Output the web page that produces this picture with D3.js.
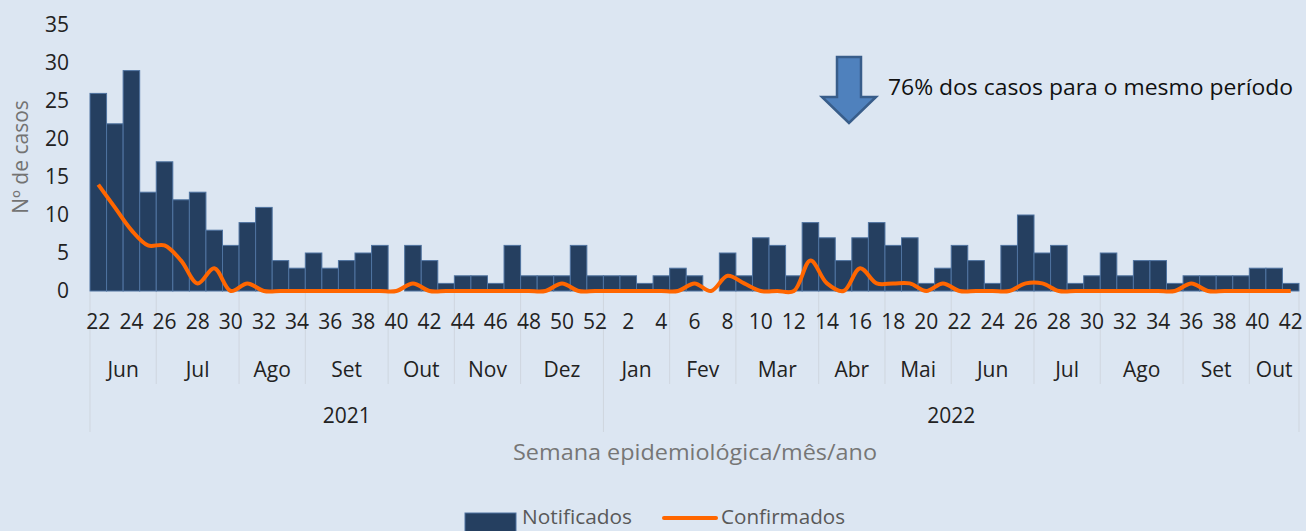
<!DOCTYPE html>
<html><head><meta charset="utf-8">
<script src="https://cdn.jsdelivr.net/npm/d3@7"></script>
<style>
html,body{margin:0;padding:0;background:#dce6f2;}
svg{display:block;}
text{font-family:"Open Sans","Noto Sans",sans-serif;}
</style></head>
<body>
<svg id="c" width="1306" height="531"></svg>
<script>
// ---- data ----
const weekLabels = [22,23,24,25,26,27,28,29,30,31,32,33,34,35,36,37,38,39,40,41,42,43,44,45,46,47,48,49,50,51,52,
  1,2,3,4,5,6,7,8,9,10,11,12,13,14,15,16,17,18,19,20,21,22,23,24,25,26,27,28,29,30,31,32,33,34,35,36,37,38,39,40,41,42];
const notificados = [26,22,29,13,17,12,13,8,6,9,11,4,3,5,3,4,5,6,0,6,4,1,2,2,1,6,2,2,2,6,2,
  2,2,1,2,3,2,0,5,2,7,6,2,9,7,4,7,9,6,7,1,3,6,4,1,6,10,5,6,1,2,5,2,4,4,1,2,2,2,2,3,3,1];
const confirmados = [14,11,8,6,6,4,1,3,0,1,0,0,0,0,0,0,0,0,0,1,0,0,0,0,0,0,0,0,1,0,0,
  0,0,0,0,0,1,0,2,1,0,0,0,4,1,0,3,1,1,1,0,1,0,0,0,0,1,1,0,0,0,0,0,0,0,0,1,0,0,0,0,0,0];
const monthLabels = ["Jun","Jul","Ago","Set","Out","Nov","Dez","Jan","Fev","Mar","Abr","Mai","Jun","Jul","Ago","Set","Out"];
const monthWeeks  = [4,5,4,5,4,4,5,4,4,5,4,4,5,4,5,4,3];
const yearLabels = ["2021","2022"];
const yearWeeks  = [31,42];
const yTicks = [0,5,10,15,20,25,30,35];

// ---- layout ----
const svg = d3.select("#c");
const idx = d3.range(weekLabels.length);
const x = d3.scaleBand().domain(idx).range([90,1299]).padding(0);
const y = d3.scaleLinear().domain([0,35]).range([291,25]);
const bw = x.bandwidth();

// y axis labels
const yAxis = d3.axisLeft(y).tickValues(yTicks).tickSize(0).tickPadding(0);
const gy = svg.append("g").attr("transform","translate(69,0)").call(yAxis);
gy.select(".domain").remove();
gy.selectAll("text").attr("font-size",21).attr("fill","#222").attr("font-family","Open Sans");

// y title
svg.append("text").attr("transform","translate(28,157) rotate(-90)")
  .attr("text-anchor","middle").attr("font-size",21).attr("fill","#737373").text("Nº de casos");

// separators in category axis
const sepCol = "#cfd6df";
let acc = 0;
const monthBounds = [0];
monthWeeks.forEach(n=>{acc+=n; monthBounds.push(acc);});
acc = 0;
const yearBounds = [0];
yearWeeks.forEach(n=>{acc+=n; yearBounds.push(acc);});
const bx = i => i>=idx.length ? x(idx.length-1)+bw : x(i);
monthBounds.forEach(b=>{
  const isYear = yearBounds.includes(b);
  svg.append("line").attr("x1",bx(b)).attr("x2",bx(b))
    .attr("y1",292).attr("y2",isYear?432:384)
    .attr("stroke",sepCol).attr("stroke-width",1);
});

// bars
svg.append("g").selectAll("rect").data(idx).join("rect")
  .attr("x",i=>x(i)).attr("width",bw)
  .attr("y",i=>y(notificados[i])).attr("height",i=>y(0)-y(notificados[i]))
  .attr("fill","#253f60").attr("stroke","#4f73a0").attr("stroke-width",1);

// line
const line = d3.line().x(i=>x(i)+bw/2).y(i=>y(confirmados[i])).curve(d3.curveCatmullRom.alpha(0.5));
svg.append("path").attr("d",line(idx)).attr("fill","none")
  .attr("stroke","#ff6600").attr("stroke-width",4).attr("stroke-linejoin","round");

// week labels
svg.append("g").selectAll("text").data(idx.filter(i=>i%2===0)).join("text")
  .attr("x",i=>x(i)+bw/2).attr("y",329).attr("text-anchor","middle")
  .attr("font-size",21).attr("fill","#222").text(i=>weekLabels[i]);

// month labels
svg.append("g").selectAll("text").data(monthLabels).join("text")
  .attr("x",(d,k)=>(bx(monthBounds[k])+bx(monthBounds[k+1]))/2).attr("y",377)
  .attr("text-anchor","middle").attr("font-size",21).attr("fill","#222").text(d=>d);

// year labels
svg.append("g").selectAll("text").data(yearLabels).join("text")
  .attr("x",(d,k)=>(bx(yearBounds[k])+bx(yearBounds[k+1]))/2).attr("y",423)
  .attr("text-anchor","middle").attr("font-size",21).attr("fill","#222").text(d=>d);

// x title
svg.append("text").attr("x",695).attr("y",460).attr("text-anchor","middle")
  .attr("font-size",22).attr("fill","#767676")
  .attr("textLength",364).attr("lengthAdjust","spacingAndGlyphs")
  .text("Semana epidemiológica/mês/ano");

// annotation arrow
svg.append("path")
  .attr("d","M837,57 L861,57 L861,97 L876,97 L849,123 L822,97 L837,97 Z")
  .attr("fill","#4f81bd").attr("stroke","#385d8a").attr("stroke-width",2.5).attr("stroke-linejoin","miter");
svg.append("text").attr("x",888).attr("y",95).attr("font-size",21.5).attr("fill","#111")
  .attr("textLength",405).attr("lengthAdjust","spacingAndGlyphs")
  .text("76% dos casos para o mesmo período");

// legend
svg.append("rect").attr("x",465).attr("y",513).attr("width",51).attr("height",20)
  .attr("fill","#253f60").attr("stroke","#4f73a0");
svg.append("text").attr("x",522).attr("y",524).attr("font-size",20)
  .attr("textLength",110).attr("lengthAdjust","spacingAndGlyphs")
  .attr("fill","#595959").text("Notificados");
svg.append("line").attr("x1",664).attr("x2",716).attr("y1",518).attr("y2",518)
  .attr("stroke","#ff6600").attr("stroke-width",4).attr("stroke-linecap","round");
svg.append("text").attr("x",721).attr("y",524).attr("font-size",20)
  .attr("textLength",124).attr("lengthAdjust","spacingAndGlyphs")
  .attr("fill","#595959").text("Confirmados");
</script>
</body></html>
